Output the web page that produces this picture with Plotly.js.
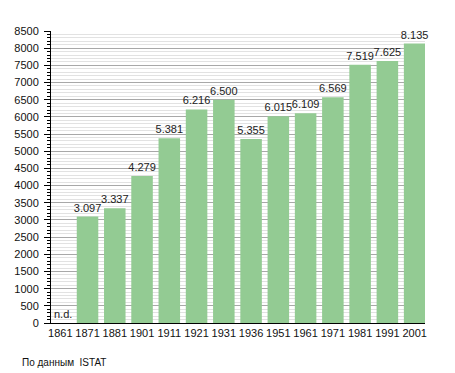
<!DOCTYPE html>
<html>
<head>
<meta charset="utf-8">
<script src="https://cdn.plot.ly/plotly-3.0.1.min.js"></script>
<style>html,body{margin:0;padding:0;background:#fff;}#chart{width:455px;height:373px;}</style>
</head>
<body>
<div id="chart"></div>
<script>
const years = ["1861","1871","1881","1901","1911","1921","1931","1936","1951","1961","1971","1981","1991","2001"];
const population = [0, 3097, 3337, 4279, 5381, 6216, 6500, 5355, 6015, 6109, 6569, 7519, 7625, 8135];
const valueLabels = ["n.d.","3.097","3.337","4.279","5.381","6.216","6.500","5.355","6.015","6.109","6.569","7.519","7.625","8.135"];
const yTicks = [0,500,1000,1500,2000,2500,3000,3500,4000,4500,5000,5500,6000,6500,7000,7500,8000,8500];
const sourceNote = "По данным  ISTAT";

// bars with a value get an outside label; missing data ("n.d.") is written as an annotation
const barText = valueLabels.map((t, i) => population[i] > 0 ? t : "");
const ndAnnotations = [];
population.forEach((v, i) => {
  if (!(v > 0)) {
    ndAnnotations.push({
      text: valueLabels[i], x: i, y: 0, xref: "x", yref: "paper",
      xanchor: "left", yanchor: "bottom", xshift: -8, yshift: 1,
      showarrow: false, font: {size: 11, color: "#222"}
    });
  }
});

const trace = {
  type: "bar",
  x: years,
  y: population,
  text: barText,
  textposition: "outside",
  constraintext: "none",
  textfont: {family: "Liberation Sans, Arial, sans-serif", size: 11, color: "#222"},
  cliponaxis: false,
  marker: {color: "#93cb93", line: {width: 0}},
  hoverinfo: "none"
};

const layout = {
  width: 455, height: 373,
  margin: {l: 51, r: 30, t: 31, b: 50},
  paper_bgcolor: "#fff", plot_bgcolor: "#fff",
  showlegend: false,
  bargap: 0.21,
  font: {family: "Liberation Sans, Arial, sans-serif", size: 11, color: "#111"},
  xaxis: {
    type: "category",
    range: [-0.34, 13.38],
    showline: true, linecolor: "#000", linewidth: 1,
    ticks: "", showgrid: false, zeroline: false,
    tickfont: {size: 11, color: "#111"}
  },
  yaxis: {
    range: [0, 8500],
    tickvals: yTicks,
    ticktext: yTicks.map(String),
    showline: true, linecolor: "#000", linewidth: 1,
    ticks: "outside", ticklen: 6, tickcolor: "#000", tickwidth: 1,
    ticklabelstandoff: 3,
    showgrid: true, gridcolor: "#a8a8a8", gridwidth: 1,
    zeroline: false,
    tickfont: {size: 11, color: "#111"},
    minor: {dtick: 100, tick0: 0, showgrid: true, gridcolor: "#e2e2e2", gridwidth: 1, ticks: "outside", ticklen: 3, tickcolor: "#000"}
  },
  annotations: ndAnnotations.concat([{
    text: sourceNote, xref: "paper", yref: "paper",
    x: -31/374, y: -39/292, xanchor: "left", yanchor: "middle",
    showarrow: false, font: {size: 10, color: "#111"}
  }])
};

Plotly.newPlot("chart", [trace], layout, {displayModeBar: false, staticPlot: true});
</script>
</body>
</html>
